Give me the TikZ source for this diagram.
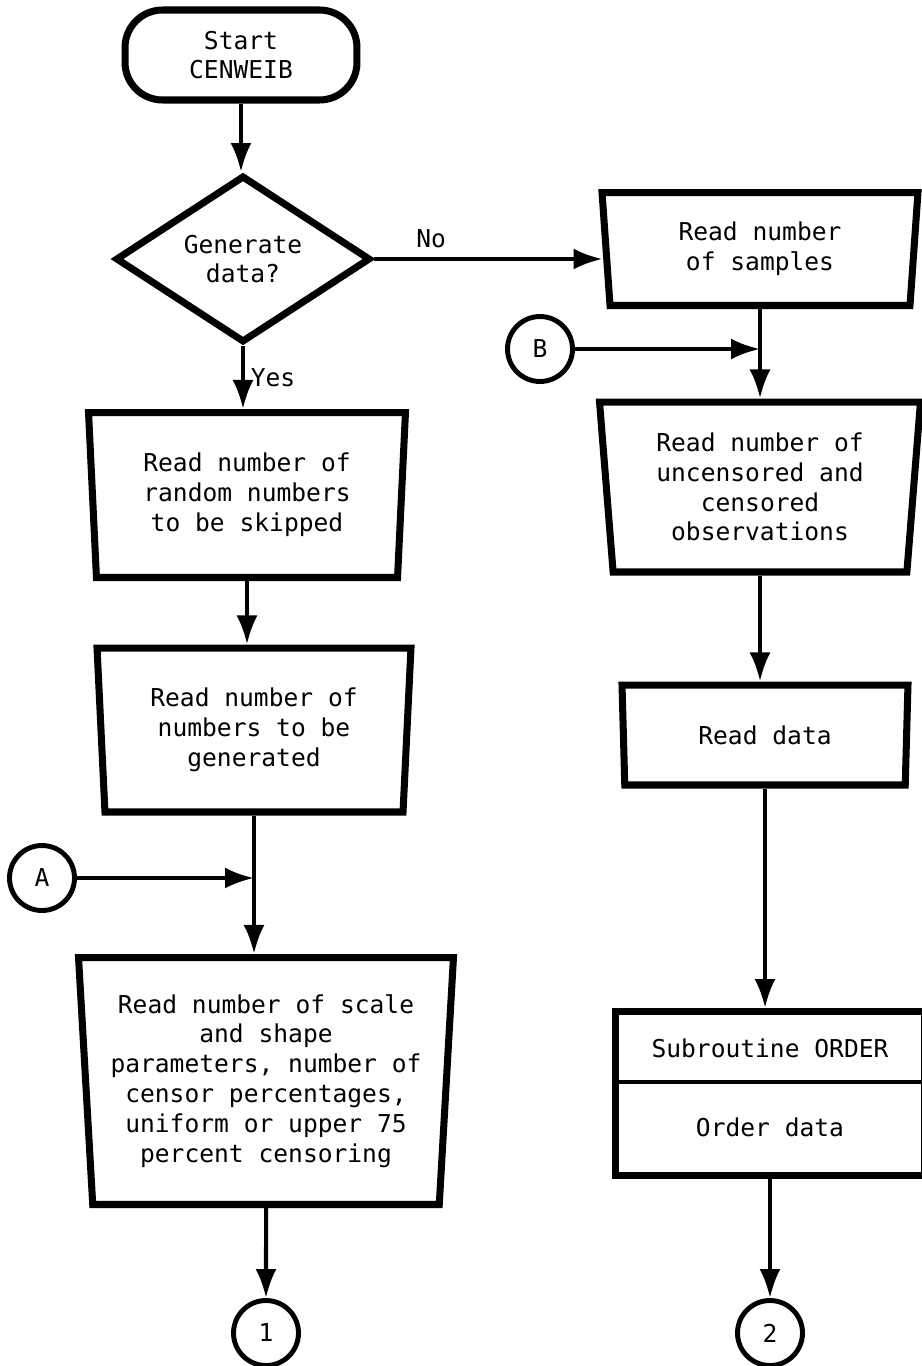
\documentclass[tikz,border=0pt]{standalone}
\usepackage{fontspec}
\setmainfont{DejaVu Sans Mono}
\usetikzlibrary{shapes.geometric,shapes.multipart,arrows.meta}
\tikzstyle{line} = [draw, line width=2.3pt, -{Latex[length=5.8mm,width=4.2mm]}]
\tikzstyle{wire} = [draw, line width=2.3pt]
\tikzstyle{block} = [draw, line width=4pt, trapezium, trapezium stretches body, align=center, inner sep=2pt]
\tikzstyle{decision} = [draw, line width=4pt, diamond, align=center, inner sep=0pt]
\tikzstyle{cloud} = [draw, line width=4pt, rectangle, rounded corners=0.75cm, align=center]
\tikzstyle{conn} = [draw, line width=2.8pt, circle, minimum size=1.3cm, inner sep=0pt]

\begin{document}
\begin{tikzpicture}[x=0.02cm, y=-0.02cm, font=\fontsize{14}{17}\selectfont]
        \useasboundingbox (0,0) rectangle (921,1366);
        % left column
        \node[cloud, minimum width=4.64cm, minimum height=1.8cm] (start) at (241,55) {Start\\CENWEIB};
        \node[decision, minimum width=5.1cm, minimum height=3.32cm] (gendata) at (243,259) {Generate\\data?};
        \node[block, trapezium left angle=95, trapezium right angle=95, minimum width=6.34cm, minimum height=3.3cm] (skip) at (247,495) {Read number of\\random numbers\\to be skipped};
        \node[block, trapezium left angle=95, trapezium right angle=95, minimum width=6.28cm, minimum height=3.28cm] (howmany) at (254,730) {Read number of\\numbers to be\\generated};
        \node[conn] (conA) at (42,878) {A};
        \coordinate (jA) at (howmany.south |- conA);
        \node[block, trapezium left angle=94.5, trapezium right angle=94.5, minimum width=7.5cm, minimum height=4.94cm] (params) at (266,1081) {Read number of scale\\and shape\\parameters, number of\\censor percentages,\\uniform or upper 75\\percent censoring};
        \node[conn] (con1) at (266,1333) {1};
        % right column
        \node[block, trapezium left angle=97.5, trapezium right angle=97.5, minimum width=6.32cm, minimum height=2.26cm] (samples) at (760,249) {Read number\\of samples};
        \node[conn] (conB) at (540,349) {B};
        \coordinate (jB) at (samples.south |- conB);
        \node[block, trapezium left angle=96.7, trapezium right angle=96.7, minimum width=6.42cm, minimum height=3.4cm] (counts) at (760,487) {Read number of\\uncensored and\\censored\\observations};
        \node[block, trapezium left angle=96, trapezium right angle=96, minimum width=5.72cm, minimum height=2cm] (readdata) at (765,735) {Read data};
        \node[draw, line width=4pt, rectangle split, rectangle split parts=2, rectangle split draw splits=false, minimum width=6.2cm, inner ysep=0pt, anchor=north] (order) at (770,1008) {\rule[-0.42cm]{0pt}{1.26cm}Subroutine ORDER\nodepart{two}\rule[-0.72cm]{0pt}{1.74cm}Order data};
        \node[conn] (con2) at (770,1333) {2};
        \path[wire] (order.text split west) -- (order.text split east);
        % connectors
        \path[line] (start.south) -- (start.south |- gendata.north);
        \path[line] (gendata.south) -- node[right] {Yes} (gendata.south |- skip.north);
        \path[line] (gendata.east) -- node[above, near start, yshift=2pt] {No} (gendata.east -| samples.west);
        \path[line] (skip.south) -- (skip.south |- howmany.north);
        \path[wire] (howmany.south) -- (jA);
        \path[line] (conA) -- (jA);
        \path[line] (jA) -- (jA |- params.north);
        \path[line] (params.south) -- (con1);
        \path[wire] (samples.south) -- (jB);
        \path[line] (conB) -- (jB);
        \path[line] (jB) -- (jB |- counts.north);
        \path[line] (counts.south) -- (counts.south |- readdata.north);
        \path[line] (readdata.south) -- (readdata.south |- order.north);
        \path[line] (order.south) -- (con2);
    \end{tikzpicture}
\end{document}
